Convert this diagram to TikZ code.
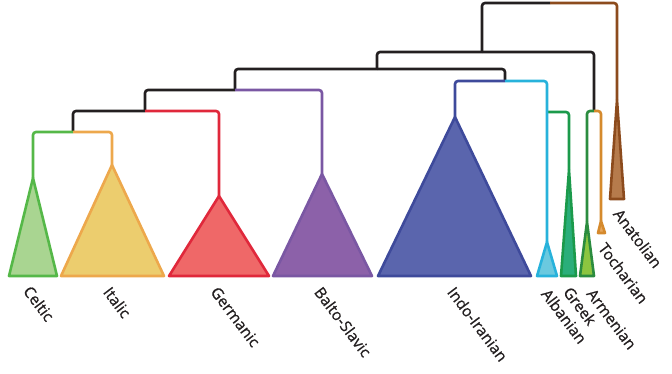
\documentclass[tikz,border=0pt]{standalone}
\usepackage{fontspec}
\setmainfont{Open Sans}
\newfontfamily\langfont{Open Sans}[FakeBold=0.7]

\definecolor{blk}{HTML}{231F20}
\definecolor{celticc}{HTML}{55B848}   \definecolor{celticf}{HTML}{A9D591}
\definecolor{italicc}{HTML}{EDA84C}   \definecolor{italicf}{HTML}{ECCD6E}
\definecolor{germc}{HTML}{E0283B}     \definecolor{germf}{HTML}{EF6868}
\definecolor{baltoc}{HTML}{7A57A3}    \definecolor{baltof}{HTML}{8C61A9}
\definecolor{indoc}{HTML}{3E4A9B}     \definecolor{indof}{HTML}{5A65AD}
\definecolor{albc}{HTML}{27B2DB}      \definecolor{albf}{HTML}{6AC9DF}
\definecolor{greekc}{HTML}{1B9A4B}    \definecolor{greekf}{HTML}{2AAE7A}
\definecolor{armc}{HTML}{2B8C3F}      \definecolor{armf}{HTML}{8CC540}
\definecolor{tochc}{HTML}{D58A2D}     \definecolor{tochf}{HTML}{E8A65B}
\definecolor{anatc}{HTML}{8C4B1D}     \definecolor{anatf}{HTML}{B67B4C}

\tikzset{
  branch/.style={line width=2.6pt, rounded corners=3pt},
  clade/.style={line width=2.6pt, line join=round},
  lang/.style={anchor=north west, rotate=-53, inner sep=0pt,
    font=\langfont\fontsize{15.5}{18}\selectfont, text=blk}
}

\begin{document}
\begin{tikzpicture}[x=1pt,y=-1pt]
    \useasboundingbox (0,0) rectangle (672,373);

    % junctions
    \coordinate (root) at (550,3);
    \coordinate (jY) at (482,52);
    \coordinate (jX) at (377,69);
    \coordinate (jW) at (235,90);
    \coordinate (jCIG) at (145,111);
    \coordinate (jCI) at (73,132);
    \coordinate (jII) at (505,81);
    \coordinate (jAG) at (547,112);
    \coordinate (jAT) at (594,111);

    % tips of the clades
    \coordinate (celtic) at (33,178);
    \coordinate (italic) at (112,165);
    \coordinate (germanic) at (219,196);
    \coordinate (balto) at (322,174);
    \coordinate (indo) at (455,117);
    \coordinate (albanian) at (547,242);
    \coordinate (greek) at (569,170);
    \coordinate (armenian) at (587,222);
    \coordinate (tocharian) at (601,221);
    \coordinate (anatolian) at (617,100);

    % branches
    \draw[branch,blk] (root) -| (jY);
    \draw[branch,anatc] (root) -| (anatolian);
    \draw[branch,blk] (jY) -| (jX);
    \draw[branch,blk] (jY) -| (jAT);
    \draw[branch,armc] (jAT) -| (armenian);
    \draw[branch,tochc] (jAT) -| (tocharian);
    \draw[branch,blk] (jX) -| (jW);
    \draw[branch,blk] (jX) -| (jII);
    \draw[branch,indoc] (jII) -| (indo);
    \draw[branch,greekc] (jAG) -| (greek);
    \draw[branch,albc] (jII) -| (albanian);
    \draw[branch,blk] (jW) -| (jCIG);
    \draw[branch,baltoc] (jW) -| (balto);
    \draw[branch,blk] (jCIG) -| (jCI);
    \draw[branch,germc] (jCIG) -| (germanic);
    \draw[branch,celticc] (jCI) -| (celtic);
    \draw[branch,italicc] (jCI) -| (italic);

    % clades
    \filldraw[clade,draw=celticc,fill=celticf] (celtic) -- (9,276) -- (57,276) -- cycle;
    \filldraw[clade,draw=italicc,fill=italicf] (italic) -- (61,276) -- (164,276) -- cycle;
    \filldraw[clade,draw=germc,fill=germf] (germanic) -- (169,276) -- (269,276) -- cycle;
    \filldraw[clade,draw=baltoc,fill=baltof] (balto) -- (273,276) -- (372,276) -- cycle;
    \filldraw[clade,draw=indoc,fill=indof] (indo) -- (378,276) -- (531,276) -- cycle;
    \filldraw[clade,draw=albc,fill=albf] (albanian) -- (537,276) -- (557,276) -- cycle;
    \filldraw[clade,draw=greekc,fill=greekf] (greek) -- (561,276) -- (576,276) -- cycle;
    \filldraw[clade,draw=armc,fill=armf] (armenian) -- (580,276) -- (594,276) -- cycle;
    \filldraw[clade,draw=tochc,fill=tochf] (tocharian) -- (598,233) -- (605,233) -- cycle;
    \filldraw[clade,draw=anatc,fill=anatf] (anatolian) -- (610,199) -- (624,199) -- cycle;

    % names
    \node[lang] (lCeltic) at (32,284) {Celtic};
    \node[lang] (lItalic) at (112,285) {Italic};
    \node[lang] (lGermanic) at (219,285) {Germanic};
    \node[lang] (lBalto) at (323,285) {Balto-Slavic};
    \node[lang] (lIndo) at (456,285) {Indo-Iranian};
    \node[lang] (lAlbanian) at (550,287) {Albanian};
    \node[lang] (lGreek) at (572,285) {Greek};
    \node[lang] (lArmenian) at (595,287) {Armenian};
    \node[lang] (lTocharian) at (607,241) {Tocharian};
    \node[lang] (lAnatolian) at (622,207) {Anatolian};
\end{tikzpicture}
\end{document}
